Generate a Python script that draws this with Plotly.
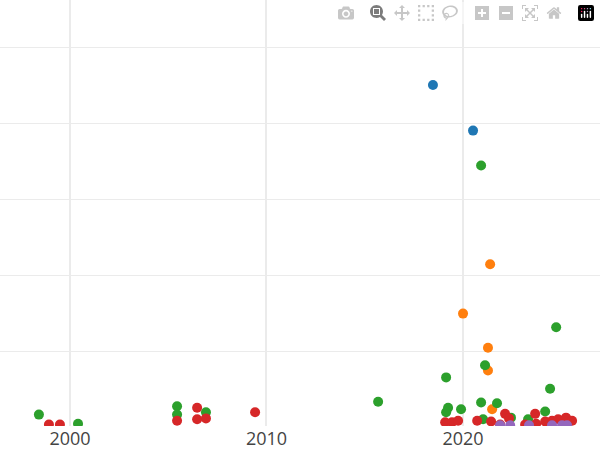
import plotly.graph_objects as go

# series values (y in arbitrary units, grid every 1)
blue_x = [2018.47, 2020.51]
blue_y = [4.51, 3.91]
orange_x = [2021.38, 2020.0, 2021.27, 2021.27, 2021.48]
orange_y = [2.15, 1.50, 1.05, 0.75, 0.24]
green_x = [2020.92, 2024.74, 2021.12, 2019.14, 2024.43, 2015.68, 2020.92, 2021.73, 2019.24, 2019.9,
           2019.14, 2024.18, 1998.42, 2005.45, 2005.45, 2006.92, 2000.41, 2023.31, 2021.02, 2022.44]
green_y = [3.45, 1.32, 0.82, 0.66, 0.51, 0.34, 0.33, 0.32, 0.26, 0.24,
           0.20, 0.21, 0.17, 0.28, 0.17, 0.20, 0.05, 0.11, 0.11, 0.13]
red_x = [2009.42, 2006.47, 2005.45, 2006.47, 2006.92, 1998.93, 1999.49, 2019.09, 2019.44, 2019.75,
         2020.72, 2021.43, 2022.14, 2022.34, 2023.67, 2023.72, 2024.18, 2024.53, 2024.84, 2025.24,
         2025.55, 2023.16, 2021.89]
red_y = [0.20, 0.26, 0.09, 0.11, 0.12, 0.04, 0.04, 0.07, 0.07, 0.09,
         0.09, 0.08, 0.18, 0.12, 0.18, 0.05, 0.08, 0.09, 0.11, 0.13,
         0.09, 0.04, 0.04]
purple_x = [2021.89, 2022.4, 2023.36, 2024.53, 2025.04, 2025.29]
purple_y = [0.03, 0.03, 0.03, 0.03, 0.03, 0.03]

series = [
    (blue_x, blue_y, "#1f77b4"),
    (orange_x, orange_y, "#ff7f0e"),
    (green_x, green_y, "#2ca02c"),
    (red_x, red_y, "#d62728"),
    (purple_x, purple_y, "#9467bd"),
]

fig = go.Figure()
for xs, ys, c in series:
    fig.add_trace(go.Scatter(x=xs, y=ys, mode="markers",
                             marker=dict(color=c, size=10), showlegend=False))

fig.update_layout(
    width=600, height=450,
    margin=dict(l=0, r=0, t=0, b=24),
    plot_bgcolor="white", paper_bgcolor="white",
    font=dict(family="Open Sans", size=18, color="#444"),
)
fig.update_xaxes(range=[1996.44, 2026.97], tickvals=[2000, 2010, 2020],
                 showgrid=True, gridcolor="#ebebeb", gridwidth=2, zeroline=False)
fig.update_yaxes(range=[0.02, 5.63], dtick=1, showticklabels=False,
                 showgrid=True, gridcolor="#ebebeb", zeroline=False)

# drop the browser's default body margin so the chart sits at the corner
fig.write_html("out.html", post_script="document.body.style.margin='0';")
